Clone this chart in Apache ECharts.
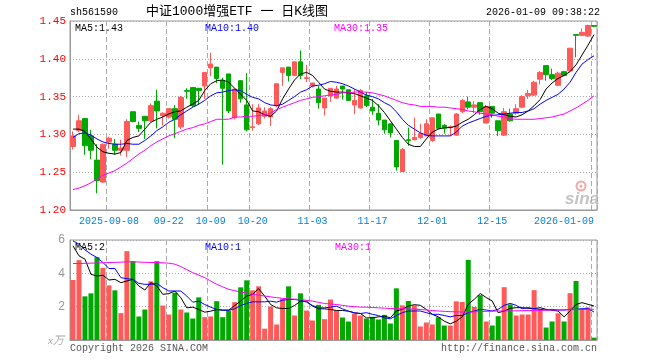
<!DOCTYPE html>
<html><head><meta charset="utf-8">
<script src="https://cdn.jsdelivr.net/npm/echarts@6/dist/echarts.min.js"></script>
<style>html,body{margin:0;padding:0;background:#fff}#c{width:660px;height:360px}</style>
</head><body><div id="c"></div>
<script>
// ---------------- data ----------------
const categories = [
 '2025-08-29',
 '2025-09-01','2025-09-02','2025-09-03','2025-09-04','2025-09-05',
 '2025-09-08','2025-09-09','2025-09-10','2025-09-11','2025-09-12',
 '2025-09-15','2025-09-16','2025-09-17','2025-09-18','2025-09-19',
 '2025-09-22','2025-09-23','2025-09-24','2025-09-25','2025-09-26',
 '2025-09-29','2025-09-30',
 '2025-10-09','2025-10-10',
 '2025-10-13','2025-10-14','2025-10-15','2025-10-16','2025-10-17',
 '2025-10-20','2025-10-21','2025-10-22','2025-10-23','2025-10-24',
 '2025-10-27','2025-10-28','2025-10-29','2025-10-30','2025-10-31',
 '2025-11-03','2025-11-04','2025-11-05','2025-11-06','2025-11-07',
 '2025-11-10','2025-11-11','2025-11-12','2025-11-13','2025-11-14',
 '2025-11-17','2025-11-18','2025-11-19','2025-11-20','2025-11-21',
 '2025-11-24','2025-11-25','2025-11-26','2025-11-27','2025-11-28',
 '2025-12-01','2025-12-02','2025-12-03','2025-12-04','2025-12-05',
 '2025-12-08','2025-12-09','2025-12-10','2025-12-11','2025-12-12',
 '2025-12-15','2025-12-16','2025-12-17','2025-12-18','2025-12-19',
 '2025-12-22','2025-12-23','2025-12-24','2025-12-25','2025-12-26',
 '2025-12-29','2025-12-30','2025-12-31',
 '2026-01-05','2026-01-06','2026-01-07','2026-01-08','2026-01-09'
];
const tickDates  = ['2025-09-08','2025-09-22','2025-10-09','2025-10-20','2025-11-03','2025-11-17','2025-12-01','2025-12-15','2026-01-09'];
const tickLabels = ['2025-09-08','09-22','10-09','10-20','11-03','11-17','12-01','12-15','2026-01-09'];

const open = [1.284,1.305,1.321,1.298,1.266,1.237,1.290,1.287,1.279,1.279,1.330,1.312,1.324,1.318,1.344,1.325,1.323,1.334,1.310,1.358,1.362,1.361,1.364,1.388,1.389,
 1.371,1.380,1.322,1.371,1.339,1.309,1.314,1.324,1.323,1.338,1.382,1.389,1.378,1.396,1.374,1.364,1.360,1.335,1.351,1.348,1.364,1.359,1.339,1.335,1.351,
 1.336,1.328,1.319,1.314,1.292,1.251,1.293,1.293,1.296,1.298,1.292,1.327,1.312,1.309,1.299,1.330,1.343,1.336,1.342,1.315,1.337,1.318,1.299,1.327,1.328,
 1.336,1.351,1.352,1.373,1.391,1.379,1.365,1.383,1.384,1.432,1.431,1.430,1.444];
const close = [1.298,1.318,1.285,1.279,1.239,1.287,1.295,1.279,1.282,1.317,1.317,1.308,1.318,1.338,1.331,1.328,1.334,1.320,1.349,1.357,1.338,1.358,1.382,1.393,1.374,
 1.361,1.331,1.360,1.347,1.306,1.310,1.335,1.331,1.334,1.367,1.388,1.378,1.396,1.378,1.375,1.368,1.342,1.348,1.361,1.360,1.360,1.345,1.345,1.358,1.338,
 1.331,1.319,1.306,1.302,1.257,1.280,1.292,1.296,1.301,1.314,1.322,1.308,1.308,1.310,1.327,1.345,1.336,1.339,1.330,1.337,1.328,1.305,1.330,1.318,1.334,
 1.350,1.354,1.369,1.382,1.379,1.374,1.381,1.378,1.414,1.431,1.435,1.444,1.443];
const low = [1.280,1.303,1.273,1.267,1.222,1.236,1.281,1.273,1.272,1.270,1.316,1.303,1.294,1.316,1.308,1.312,1.321,1.295,1.307,1.347,1.336,1.339,1.347,1.377,1.368,
 1.260,1.328,1.320,1.342,1.304,1.305,1.312,1.321,1.311,1.336,1.364,1.370,1.378,1.373,1.369,1.362,1.334,1.325,1.343,1.347,1.346,1.344,1.327,1.334,1.336,
 1.326,1.312,1.301,1.296,1.252,1.251,1.285,1.292,1.294,1.298,1.290,1.307,1.301,1.298,1.298,1.328,1.333,1.328,1.326,1.315,1.322,1.298,1.298,1.317,1.326,
 1.335,1.347,1.351,1.366,1.371,1.372,1.364,1.377,1.383,1.402,1.430,1.429,1.442];
const high = [1.304,1.326,1.321,1.306,1.287,1.288,1.297,1.294,1.293,1.320,1.330,1.317,1.324,1.341,1.359,1.329,1.334,1.339,1.351,1.361,1.362,1.361,1.382,1.408,1.389,
 1.375,1.380,1.360,1.372,1.381,1.340,1.340,1.336,1.336,1.367,1.388,1.389,1.396,1.411,1.392,1.368,1.364,1.348,1.361,1.364,1.364,1.359,1.360,1.360,1.356,
 1.347,1.340,1.319,1.314,1.292,1.282,1.309,1.322,1.314,1.320,1.322,1.327,1.314,1.312,1.328,1.347,1.350,1.344,1.342,1.339,1.337,1.318,1.335,1.334,1.340,
 1.352,1.359,1.371,1.384,1.391,1.387,1.383,1.384,1.414,1.432,1.440,1.445,1.444];

const ma5 = [1.307,1.307,1.304,1.294,1.283,1.277,1.275,1.274,1.276,1.292,1.296,1.298,1.307,1.316,1.320,1.323,1.327,1.330,1.331,1.336,1.340,1.345,1.358,1.367,1.371,
 1.372,1.369,1.361,1.353,1.345,1.331,1.330,1.326,1.324,1.331,1.347,1.360,1.372,1.380,1.382,1.378,1.369,1.360,1.357,1.356,1.356,1.355,1.354,1.351,1.348,
 1.345,1.338,1.329,1.318,1.307,1.296,1.287,1.284,1.284,1.294,1.303,1.307,1.309,1.309,1.311,1.316,1.320,1.326,1.333,1.337,1.334,1.328,1.326,1.324,1.323,
 1.326,1.331,1.338,1.346,1.360,1.368,1.374,1.378,1.383,1.392,1.405,1.418,1.432];
const ma10 = [1.296,1.301,1.302,1.299,1.294,1.290,1.288,1.287,1.287,1.288,1.287,1.287,1.292,1.298,1.305,1.310,1.316,1.320,1.326,1.331,1.336,1.340,1.345,1.351,1.355,
 1.356,1.358,1.359,1.358,1.353,1.349,1.347,1.342,1.339,1.338,1.340,1.345,1.350,1.356,1.359,1.364,1.365,1.367,1.370,1.369,1.367,1.364,1.360,1.356,1.352,
 1.350,1.347,1.342,1.338,1.330,1.320,1.312,1.307,1.302,1.299,1.298,1.298,1.298,1.298,1.303,1.311,1.315,1.318,1.321,1.324,1.325,1.326,1.327,1.328,1.329,
 1.329,1.331,1.334,1.340,1.345,1.349,1.353,1.360,1.369,1.382,1.393,1.399,1.404];
const ma30 = [1.227,1.229,1.232,1.236,1.241,1.246,1.249,1.252,1.257,1.262,1.268,1.274,1.279,1.285,1.290,1.294,1.298,1.301,1.304,1.307,1.309,1.312,1.314,1.317,1.320,
 1.320,1.320,1.323,1.323,1.324,1.324,1.325,1.326,1.328,1.333,1.336,1.339,1.342,1.345,1.347,1.349,1.350,1.351,1.352,1.353,1.355,1.355,1.356,1.356,1.356,
 1.355,1.353,1.351,1.348,1.345,1.342,1.340,1.339,1.337,1.337,1.337,1.336,1.336,1.335,1.334,1.333,1.331,1.330,1.328,1.327,1.326,1.324,1.323,1.321,1.320,
 1.320,1.320,1.320,1.321,1.322,1.323,1.325,1.327,1.331,1.335,1.340,1.345,1.351];

const volume = [3.60,4.79,2.62,2.80,4.97,4.33,3.28,2.98,1.61,5.33,4.73,1.41,1.83,3.52,4.73,2.07,1.53,2.84,1.83,1.65,1.29,2.56,1.37,1.41,2.33,
 1.37,1.77,2.27,3.16,3.58,2.98,3.22,0.68,2.01,0.93,2.49,3.22,1.47,2.80,1.77,1.17,2.11,1.25,2.43,1.77,1.35,1.11,1.59,1.47,
 1.29,1.39,1.23,1.51,0.99,3.10,2.08,2.34,2.08,0.81,1.05,0.93,1.37,0.87,0.87,2.32,2.28,4.81,1.98,2.69,1.11,0.87,1.43,3.17,2.14,1.47,
 1.53,1.53,2.99,1.84,0.75,1.11,1.60,1.11,2.81,3.54,1.84,1.96,0.14];
const vma5 = [5.65,5.05,4.85,3.94,3.84,3.88,3.60,3.64,3.44,3.54,3.64,3.24,3.00,3.44,3.24,2.74,2.78,2.94,2.54,1.93,1.97,1.83,1.67,1.73,1.83,
 1.79,1.79,2.07,2.33,2.64,2.74,3.08,2.64,2.13,1.93,1.89,1.89,2.07,2.33,2.33,2.03,1.87,1.87,1.83,1.77,1.77,1.73,1.63,1.59,
 1.33,1.33,1.39,1.43,1.33,1.74,1.84,2.04,2.12,2.08,1.84,1.54,1.39,1.13,0.97,1.13,1.39,2.14,2.44,2.79,2.55,2.34,1.64,1.74,1.90,1.94,
 1.94,1.90,1.88,1.94,1.84,1.78,1.74,1.39,1.74,2.14,2.24,2.14,2.04];
const vma10 = [5.95,5.75,5.41,5.15,4.95,4.65,4.29,4.29,3.74,3.68,3.64,3.40,3.34,3.34,3.40,3.14,2.94,2.94,2.94,2.64,2.27,2.33,2.13,1.97,1.83,
 1.79,1.79,1.87,2.07,2.19,2.29,2.29,2.29,2.33,2.27,2.39,2.43,2.43,2.39,2.27,2.07,1.93,1.93,1.97,2.03,1.87,1.73,1.63,1.59,
 1.64,1.54,1.47,1.33,1.27,1.47,1.64,1.74,1.74,1.74,1.64,1.54,1.54,1.47,1.39,1.47,1.47,1.64,1.74,1.84,1.80,1.74,1.84,2.08,2.20,2.08,
 1.88,1.94,1.88,1.84,1.80,1.84,1.80,1.80,1.84,1.84,1.88,1.88,1.68];
const vma30 = [4.59,4.59,4.60,4.61,4.62,4.63,4.65,4.66,4.67,4.69,4.69,4.68,4.66,4.65,4.65,4.63,4.61,4.55,4.41,4.22,4.04,3.89,3.74,3.54,3.34,
 3.19,3.04,2.96,2.88,2.81,2.74,2.69,2.64,2.59,2.54,2.50,2.47,2.45,2.43,2.38,2.33,2.26,2.19,2.16,2.13,2.08,2.03,2.00,1.97,
 1.97,1.95,1.93,1.91,1.89,1.88,1.87,1.86,1.85,1.83,1.80,1.77,1.74,1.72,1.70,1.69,1.68,1.68,1.69,1.70,1.72,1.73,1.74,1.74,1.75,1.75,
 1.76,1.77,1.78,1.78,1.79,1.80,1.80,1.81,1.82,1.82,1.83,1.84,1.84];

// ---------------- chart ----------------
const UP = '#ff5a5a', DOWN = '#00a800';
const MONO = '"Liberation Mono","DejaVu Sans Mono",monospace';
const tickIdx = tickDates.map(d => categories.indexOf(d));
const isTick = i => tickIdx.indexOf(i) >= 0;
const last = categories.length - 1;

const chart = echarts.init(document.getElementById('c'), null, {renderer: 'canvas'});

const xBase = (gi, showLabel) => ({
  type: 'category', gridIndex: gi, data: categories, boundaryGap: true,
  axisLine: {show: true, lineStyle: {color: '#999'}},
  axisTick: {show: false},
  axisLabel: showLabel ? {
    show: true, interval: (i) => isTick(i), color: '#0a7fd8', fontFamily: MONO, fontSize: 10, margin: 6,
    alignMaxLabel: 'right',
    formatter: (v, i) => { const k = tickDates.indexOf(v); return k >= 0 ? tickLabels[k] : ''; }
  } : {show: false},
  splitLine: {show: true, interval: (i) => isTick(i), lineStyle: {color: '#aaa', type: [5, 3], width: 1}}
});

const lineS = (name, data, color, xi, yi) => ({
  name, type: 'line', data, xAxisIndex: xi, yAxisIndex: yi, symbol: 'none', showSymbol: false,
  lineStyle: {color, width: 1}, itemStyle: {color}, z: 4, silent: true, animation: false
});

const txt = (x, y, text, fill, font, align) => ({
  type: 'text', x, y, silent: true,
  style: {text, fill, font, align: align || 'left', verticalAlign: 'middle'}
});

const f2 = v => v.toFixed(2);
const fi = v => String(Math.floor(v));

chart.setOption({
  animation: false,
  backgroundColor: '#fff',
  grid: [
    {left: 70, right: 63, top: 21, height: 189, show: true, borderColor: '#999', borderWidth: 1, backgroundColor: 'transparent', containLabel: false, outerBoundsMode: 'none'},
    {left: 70, right: 63, top: 240, height: 100, show: true, borderColor: '#999', borderWidth: 1, backgroundColor: 'transparent', containLabel: false, outerBoundsMode: 'none'}
  ],
  xAxis: [xBase(0, true), xBase(1, false)],
  yAxis: [
    {type: 'value', gridIndex: 0, min: 1.2, max: 1.45, interval: 0.05, scale: false,
     axisLine: {show: true, lineStyle: {color: '#999'}}, axisTick: {show: false},
     axisLabel: {color: '#ff0000', fontFamily: MONO, fontSize: 11, margin: 4, formatter: v => v.toFixed(2)},
     splitLine: {show: true, lineStyle: {color: '#aaa', type: [1, 2], width: 1}}},
    {type: 'value', gridIndex: 1, min: 0, max: 6, interval: 2,
     axisLine: {show: true, lineStyle: {color: '#999'}}, axisTick: {show: false},
     axisLabel: {color: '#999', fontFamily: '"Liberation Sans",sans-serif', fontSize: 12, margin: 5, formatter: v => v === 0 ? '' : String(v)},
     splitLine: {show: true, lineStyle: {color: '#aaa', type: [1, 2], width: 1}}}
  ],
  series: [
    {type: 'candlestick', xAxisIndex: 0, yAxisIndex: 0, barWidth: 5, z: 2,
     data: open.map((o, i) => [o, close[i], low[i], high[i]]),
     itemStyle: {color: UP, color0: DOWN, borderColor: UP, borderColor0: DOWN, borderWidth: 1}},
    lineS('MA5', ma5, '#000000', 0, 0),
    lineS('MA10', ma10, '#0000ff', 0, 0),
    lineS('MA30', ma30, '#ff00ff', 0, 0),
    {type: 'bar', xAxisIndex: 1, yAxisIndex: 1, barWidth: 5, z: 2,
     data: volume.map((v, i) => ({value: v, itemStyle: {color: close[i] >= open[i] ? UP : DOWN}}))},
    lineS('VMA5', vma5, '#000000', 1, 1),
    lineS('VMA10', vma10, '#0000ff', 1, 1),
    lineS('VMA30', vma30, '#ff00ff', 1, 1)
  ],
  graphic: [
    txt(70, 12, 'sh561590', '#000', '10px ' + MONO),
    txt(237, 12, '中证1000增强ETF 一 日K线图', '#000', '13px "Liberation Mono","Noto Sans CJK SC",monospace', 'center'),
    txt(600, 12, '2026-01-09 09:38:22', '#000', '10px ' + MONO, 'right'),
    txt(75, 28, 'MA5:' + f2(ma5[last]), '#000', '10px ' + MONO),
    txt(205, 28, 'MA10:' + f2(ma10[last]), '#0000ff', '10px ' + MONO),
    txt(334, 28, 'MA30:' + f2(ma30[last]), '#ff00ff', '10px ' + MONO),
    txt(75, 247, 'MA5:' + fi(vma5[last]), '#000', '10px ' + MONO),
    txt(205, 247, 'MA10:' + fi(vma10[last]), '#0000ff', '10px ' + MONO),
    txt(335, 247, 'MA30:' + fi(vma30[last]), '#ff00ff', '10px ' + MONO),
    txt(70, 348, 'Copyright 2026 SINA.COM', '#555', '10px ' + MONO),
    txt(597, 348, 'http://finance.sina.com.cn', '#555', '10px ' + MONO, 'right'),
    txt(64, 341, 'x万', '#aaa', 'italic 11px "Liberation Serif","Noto Sans CJK SC",serif', 'right'),
    {type: 'circle', silent: true, shape: {cx: 581, cy: 186, r: 4.5}, style: {fill: 'none', stroke: '#f3a8a8', lineWidth: 2}},
    {type: 'circle', silent: true, shape: {cx: 581, cy: 186, r: 1.5}, style: {fill: '#f3a8a8'}},
    txt(582, 199, 'sina', '#c4c4c4', 'italic bold 17px "Liberation Sans",sans-serif', 'center')
  ]
});
</script>
</body></html>
